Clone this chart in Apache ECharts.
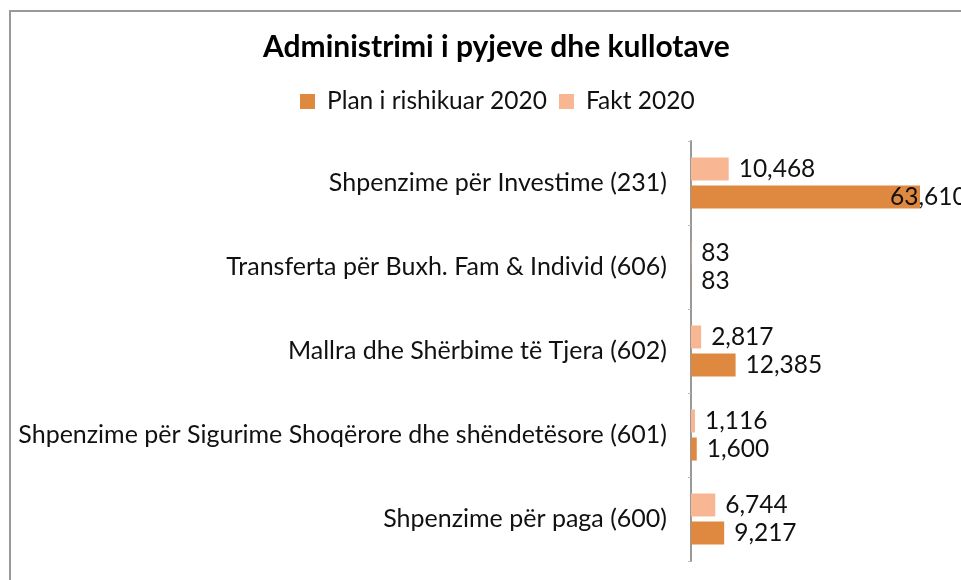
<!DOCTYPE html>
<html>
<head>
<meta charset="utf-8">
<script src="https://cdn.jsdelivr.net/npm/echarts@6/dist/echarts.min.js"></script>
<style>
  html, body { margin: 0; padding: 0; background: #fff; }
  #chart { position: absolute; left: 0; top: 0; width: 961px; height: 580px; }
  #frame {
    position: absolute; left: 9px; top: 10px; width: 1000px; height: 600px;
    border-left: 2px solid #999; border-top: 2px solid #999;
    pointer-events: none;
  }
</style>
</head>
<body>
<div id="chart"></div>
<div id="frame"></div>
<script>
// kategorite, nga poshte lart
const categories = [
  'Shpenzime për paga (600)',
  'Shpenzime për Sigurime Shoqërore dhe shëndetësore (601)',
  'Mallra dhe Shërbime të Tjera (602)',
  'Transferta për Buxh. Fam & Individ (606)',
  'Shpenzime për Investime (231)'
]
const planValues = [9217, 1600, 12385, 83, 63610]
const faktValues = [6744, 1116, 2817, 83, 10468]
const seriesNames = ['Plan i rishikuar 2020', 'Fakt 2020']

const FONT = 'Lato'
const chart = echarts.init(document.getElementById('chart'))

const fmt = (p) => p.value.toLocaleString('en-US')

// etiketa e shiritit te gjate del brenda si ne origjinal
const planData = planValues.map((v) =>
  v > 50000 ? { value: v, label: { offset: [-40, 0] } } : v
)

const labelStyle = {
  show: true,
  position: 'right',
  distance: 10,
  color: '#111',
  fontSize: 24.5,
  fontFamily: FONT,
  formatter: fmt
}

chart.setOption({
  animation: false,
  backgroundColor: '#fff',
  title: {
    text: 'Administrimi i pyjeve dhe kullotave',
    left: 258,
    top: 27,
    textStyle: { fontSize: 30, fontWeight: 'bold', color: '#000', fontFamily: FONT }
  },
  legend: {
    data: seriesNames,
    left: 295,
    top: 84,
    itemWidth: 15,
    itemHeight: 15,
    itemGap: 12,
    icon: 'rect',
    textStyle: { fontSize: 24.5, color: '#111', fontFamily: FONT, padding: [0, 0, 0, 7] }
  },
  grid: { left: 691, right: 0, top: 141, bottom: 19 },
  xAxis: {
    type: 'value',
    min: 0,
    max: 75000,
    axisLine: { show: false },
    axisTick: { show: false },
    axisLabel: { show: false },
    splitLine: { show: false }
  },
  yAxis: {
    type: 'category',
    data: categories,
    axisLine: { show: true, lineStyle: { color: '#999', width: 2 } },
    axisTick: { show: true, length: 3, lineStyle: { color: '#bbb' } },
    axisLabel: { margin: 24, fontSize: 25, color: '#111', fontFamily: FONT }
  },
  // Fakt ne krye te cdo kategorie, Plan poshte tij
  series: [
    {
      name: seriesNames[1],
      type: 'bar',
      data: faktValues,
      barWidth: 23,
      barGap: '22%',
      itemStyle: { color: '#F9B692' },
      label: labelStyle
    },
    {
      name: seriesNames[0],
      type: 'bar',
      data: planData,
      barWidth: 23,
      barGap: '22%',
      itemStyle: { color: '#DF883F' },
      label: labelStyle
    }
  ]
})
</script>
</body>
</html>
